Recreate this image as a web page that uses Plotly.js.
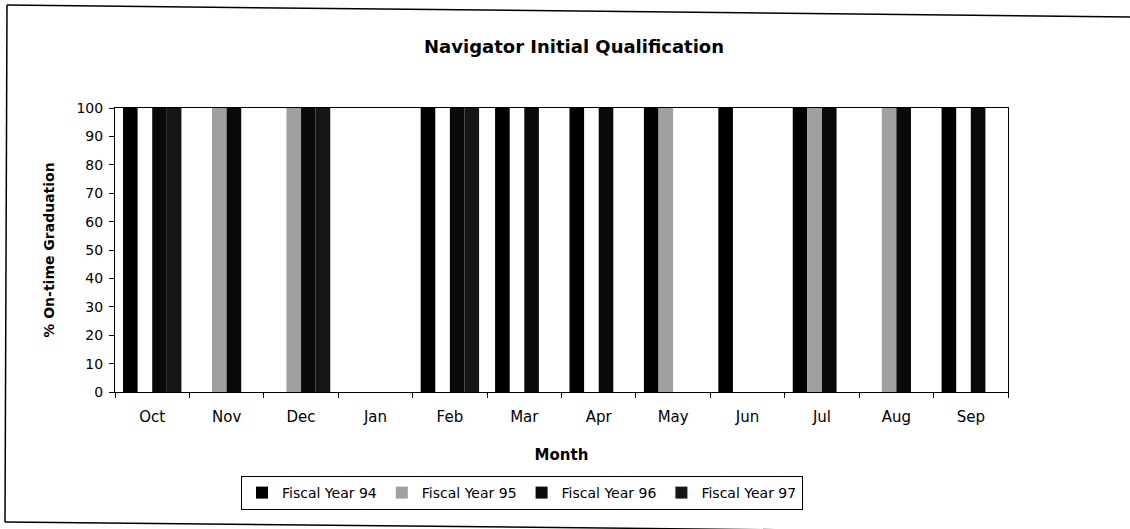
<!DOCTYPE html>
<html>
<head>
<meta charset="utf-8">
<script src="https://cdn.plot.ly/plotly-3.0.1.min.js"></script>
<style>html,body{margin:0;padding:0;background:#fff;}#chart{width:1130px;height:529px;}</style>
</head>
<body>
<div id="chart"></div>
<script>
const months = ["Oct","Nov","Dec","Jan","Feb","Mar","Apr","May","Jun","Jul","Aug","Sep"];
const seriesNames = ["Fiscal Year 94","Fiscal Year 95","Fiscal Year 96","Fiscal Year 97"];
const fy94 = [100, 0, 0, 0, 100, 100, 100, 100, 100, 100, 0, 100];
const fy95 = [0, 100, 100, 0, 0, 0, 0, 100, 0, 100, 100, 0];
const fy96 = [100, 100, 100, 0, 100, 100, 100, 0, 0, 100, 100, 100];
const fy97 = [100, 0, 100, 0, 100, 0, 0, 0, 0, 0, 0, 0];
const yTicks = [0,10,20,30,40,50,60,70,80,90,100];

const colors = ["#000000", "#a0a0a0", "#0a0a0a", "#161616"];
const allSeries = [fy94, fy95, fy96, fy97];

const L = 115, R = 1008, T = 108, B = 392, W = 1130, H = 529;
const px = x => (x - L) / (R - L);
const py = y => (B - y) / (B - T);

const traces = allSeries.map((vals, i) => ({
  type: "bar",
  name: seriesNames[i],
  x: months,
  y: vals,
  marker: {color: colors[i], line: {color: "#000", width: 0}},
  hoverinfo: "x+y+name"
}));

const font = "'DejaVu Sans', Arial, sans-serif";
const layout = {
  width: W, height: H,
  margin: {l: L, r: W - R, t: T, b: H - B, pad: 0},
  paper_bgcolor: "#fff", plot_bgcolor: "#fff",
  barmode: "group", bargap: 0.215, bargroupgap: 0,
  font: {family: font, color: "#000", size: 14},
  title: {text: "<b>Navigator Initial Qualification</b>", x: 0.508, xanchor: "center", y: 0.912, yanchor: "middle", font: {size: 18, family: font, color: "#000"}},
  xaxis: {
    type: "category",
    tickson: "boundaries",
    ticks: "outside", ticklen: 5, tickcolor: "#000", tickwidth: 1,
    showline: true, linecolor: "#000", linewidth: 1, mirror: true,
    showgrid: false, zeroline: false,
    ticklabelstandoff: 11,
    tickfont: {size: 15, family: font, color: "#000"},
    title: {text: "<b>Month</b>", font: {size: 15, family: font, color: "#000"}, standoff: 24}
  },
  yaxis: {
    range: [0, 100],
    tickvals: yTicks,
    ticks: "outside", ticklen: 5, tickcolor: "#000", tickwidth: 1,
    showline: true, linecolor: "#000", linewidth: 1, mirror: true,
    showgrid: false, zeroline: false,
    ticklabelstandoff: 3,
    tickfont: {size: 14, family: font, color: "#000"},
    title: {text: "<b>% On-time Graduation</b>", font: {size: 14, family: font, color: "#000"}, standoff: 18}
  },
  showlegend: true,
  legend: {
    orientation: "h",
    x: px(522), xanchor: "center",
    y: py(476), yanchor: "top",
    bordercolor: "#000", borderwidth: 1, bgcolor: "#fff",
    font: {size: 14, family: font, color: "#000"},
    itemwidth: 30, tracegroupgap: 0,
    traceorder: "normal"
  },
  shapes: [
    {type: "line", xref: "paper", yref: "paper", x0: px(7), y0: py(5), x1: px(1130), y1: py(17), line: {color: "#000", width: 1.5}},
    {type: "line", xref: "paper", yref: "paper", x0: px(7), y0: py(5), x1: px(5), y1: py(522), line: {color: "#000", width: 1.5}},
    {type: "line", xref: "paper", yref: "paper", x0: px(5), y0: py(522), x1: px(900), y1: py(531), line: {color: "#000", width: 1.5}}
  ]
};

Plotly.newPlot("chart", traces, layout, {displayModeBar: false, staticPlot: true});
</script>
</body>
</html>
